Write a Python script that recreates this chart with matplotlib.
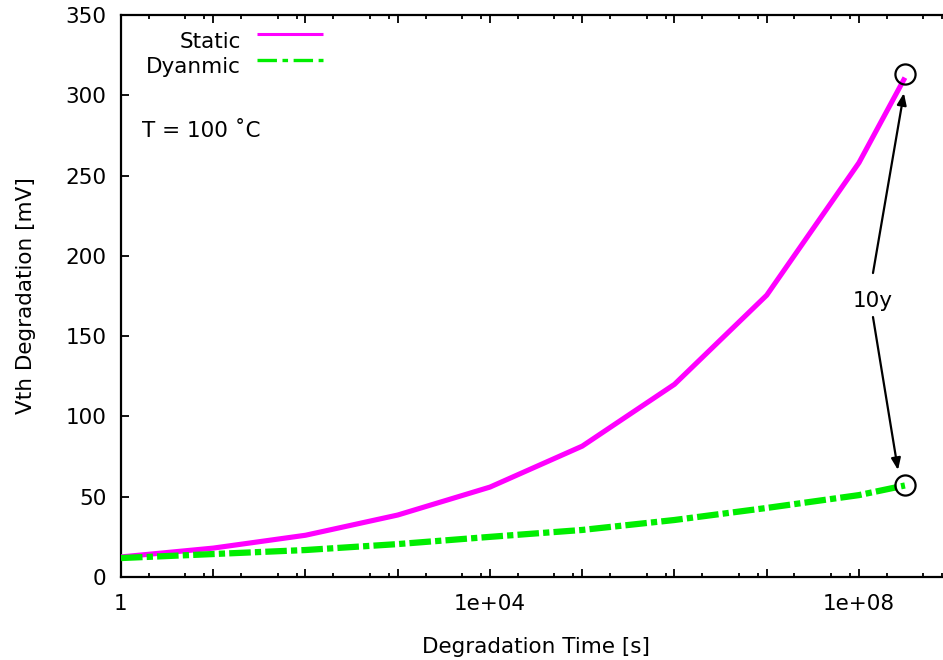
import numpy as np
import matplotlib
matplotlib.use("Agg")
import matplotlib.pyplot as plt
from matplotlib.ticker import FixedLocator, NullFormatter

plt.rcParams['font.family'] = ['DejaVu Sans']
plt.rcParams['lines.scale_dashes'] = False

# ---- data ----
time_s = [1, 1e1, 1e2, 1e3, 1e4, 1e5, 1e6, 1e7, 1e8, 3.15e8]
static_mv = [12.5, 18, 26, 38.6, 56, 81.5, 120, 175.5, 258, 311]
dynamic_mv = [11.8, 14.3, 16.8, 20.5, 25, 29.3, 35.5, 43, 51, 57]

xticks_major = [10.0 ** k for k in range(0, 9)]
xtick_labels = ["1", "", "", "", "1e+04", "", "", "", "1e+08"]
xticks_minor = [m * 10.0 ** k for k in range(0, 9) for m in (2, 5, 8)]
yticks = [0, 50, 100, 150, 200, 250, 300, 350]

label_10y = "10y"
anno_text_pos = (1.42e8, 168.1)
arrow_up = ((1.419e8, 189.3), (3.07e8, 301.4))
arrow_dn = ((1.419e8, 161.9), (2.65e8, 66.6))

FS = 15.5
W, H = 943, 660
fig = plt.figure(figsize=(W / 100, H / 100), dpi=100)
ax = fig.add_axes([121 / W, 83 / H, (W - 121) / W, (577 - 15) / H])

magenta = '#ff00ff'
green = '#00ee00'

ax.plot(time_s, static_mv, color=magenta, lw=3.7, solid_capstyle='butt', zorder=3)
ax.plot(time_s, dynamic_mv, color=green, lw=4.5,
        linestyle=(0, (15.5, 3.0, 4.5, 3.0)), dash_capstyle='butt', zorder=3)

# circles at 10 years
ax.plot([time_s[-1]], [static_mv[-1] + 2], marker='o', ms=14.5, mfc='none',
        mec='black', mew=1.6, ls='none', zorder=4)
ax.plot([time_s[-1]], [dynamic_mv[-1]], marker='o', ms=14.5, mfc='none',
        mec='black', mew=1.6, ls='none', zorder=4)

ax.set_xscale('log')
ax.set_xlim(1, 10 ** 8.911)
ax.set_ylim(0, 350)

ax.xaxis.set_major_locator(FixedLocator(xticks_major))
ax.set_xticklabels(xtick_labels)
ax.xaxis.set_minor_locator(FixedLocator(xticks_minor))
ax.xaxis.set_minor_formatter(NullFormatter())
ax.set_yticks(yticks)
ax.set_yticklabels([str(v) for v in yticks])

ax.tick_params(axis='x', which='major', direction='in', length=5.8, width=1.3,
               top=True, bottom=True, labelsize=FS, pad=12)
ax.tick_params(axis='x', which='minor', direction='in', length=2.6, width=1.3,
               top=True, bottom=True)
ax.tick_params(axis='y', which='major', direction='in', length=5.8, width=1.3,
               left=True, right=False, labelsize=FS, pad=10.5)
ax.tick_params(axis='y', which='minor', left=False, right=False)

for s in ('left', 'bottom', 'top'):
    ax.spines[s].set_linewidth(1.6)
ax.spines['right'].set_visible(False)

# axis labels
fig.text(26 / W, 1 - 296 / H, "Vth Degradation [mV]", rotation=90,
         ha='center', va='center', fontsize=FS)
fig.text(536 / W, 1 - 653 / H, "Degradation Time [s]",
         ha='center', va='baseline', fontsize=FS)

# legend (manual, gnuplot style)
ax.text(0.146, 0.9413, "Static", transform=ax.transAxes, ha='right',
        va='baseline', fontsize=FS)
ax.text(0.146, 0.8968, "Dyanmic", transform=ax.transAxes, ha='right',
        va='baseline', fontsize=FS)
ax.plot([0.1655, 0.2457], [0.9662, 0.9662], transform=ax.transAxes,
        color=magenta, lw=2.2, solid_capstyle='butt')
ax.plot([0.1655, 0.2457], [0.9199, 0.9199], transform=ax.transAxes,
        color=green, lw=2.4, linestyle=(0, (14.0, 4.0, 4.0, 4.0)),
        dash_capstyle='butt')

ax.text(0.0255, 0.783, "T = 100 ˚C", transform=ax.transAxes, ha='left',
        va='baseline', fontsize=FS)

# 10y annotation
ax.text(anno_text_pos[0], anno_text_pos[1], label_10y, ha='center',
        va='baseline', fontsize=FS)
for start, end in (arrow_up, arrow_dn):
    ax.annotate("", xy=end, xytext=start,
                arrowprops=dict(arrowstyle='-|>,head_length=0.5,head_width=0.2',
                                mutation_scale=14, lw=1.6, color='black',
                                shrinkA=0, shrinkB=0))

fig.savefig("out.png", dpi=100)
